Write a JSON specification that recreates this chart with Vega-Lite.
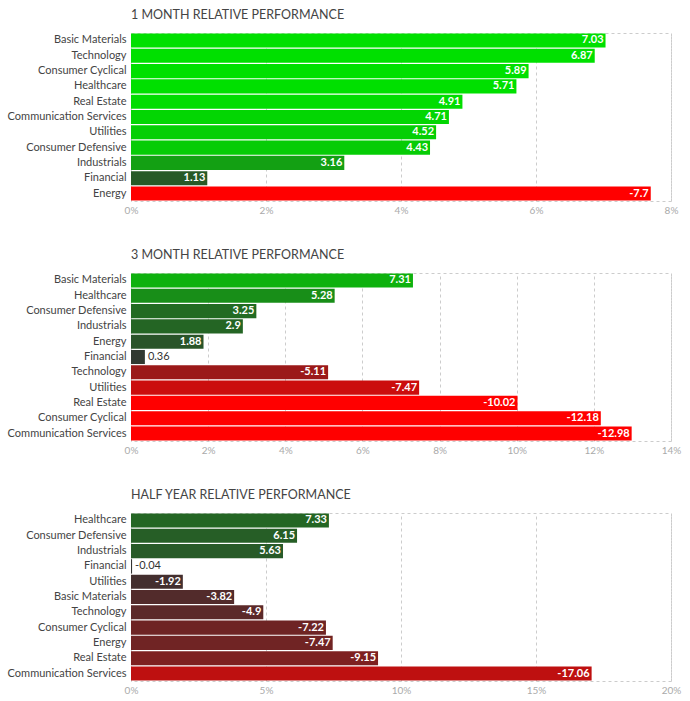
{
  "$schema": "https://vega.github.io/schema/vega-lite/v6.json",
  "padding": {"left": 5, "top": 8, "right": 10, "bottom": 5},
  "background": "white",
  "spacing": 32,
  "datasets": {
    "m1": [
      {"sector": "Basic Materials", "value": 7.03, "pct": 7.03},
      {"sector": "Technology", "value": 6.87, "pct": 6.87},
      {"sector": "Consumer Cyclical", "value": 5.89, "pct": 5.89},
      {"sector": "Healthcare", "value": 5.71, "pct": 5.71},
      {"sector": "Real Estate", "value": 4.91, "pct": 4.91},
      {"sector": "Communication Services", "value": 4.71, "pct": 4.71},
      {"sector": "Utilities", "value": 4.52, "pct": 4.52},
      {"sector": "Consumer Defensive", "value": 4.43, "pct": 4.43},
      {"sector": "Industrials", "value": 3.16, "pct": 3.16},
      {"sector": "Financial", "value": 1.13, "pct": 1.13},
      {"sector": "Energy", "value": -7.7, "pct": 7.7}
    ],
    "m3": [
      {"sector": "Basic Materials", "value": 7.31, "pct": 7.31},
      {"sector": "Healthcare", "value": 5.28, "pct": 5.28},
      {"sector": "Consumer Defensive", "value": 3.25, "pct": 3.25},
      {"sector": "Industrials", "value": 2.9, "pct": 2.9},
      {"sector": "Energy", "value": 1.88, "pct": 1.88},
      {"sector": "Financial", "value": 0.36, "pct": 0.36},
      {"sector": "Technology", "value": -5.11, "pct": 5.11},
      {"sector": "Utilities", "value": -7.47, "pct": 7.47},
      {"sector": "Real Estate", "value": -10.02, "pct": 10.02},
      {"sector": "Consumer Cyclical", "value": -12.18, "pct": 12.18},
      {"sector": "Communication Services", "value": -12.98, "pct": 12.98}
    ],
    "hy": [
      {"sector": "Healthcare", "value": 7.33, "pct": 7.33},
      {"sector": "Consumer Defensive", "value": 6.15, "pct": 6.15},
      {"sector": "Industrials", "value": 5.63, "pct": 5.63},
      {"sector": "Financial", "value": -0.04, "pct": 0.04},
      {"sector": "Utilities", "value": -1.92, "pct": 1.92},
      {"sector": "Basic Materials", "value": -3.82, "pct": 3.82},
      {"sector": "Technology", "value": -4.9, "pct": 4.9},
      {"sector": "Consumer Cyclical", "value": -7.22, "pct": 7.22},
      {"sector": "Energy", "value": -7.47, "pct": 7.47},
      {"sector": "Real Estate", "value": -9.15, "pct": 9.15},
      {"sector": "Communication Services", "value": -17.06, "pct": 17.06}
    ]
  },
  "vconcat": [
    {
      "title": "1 MONTH RELATIVE PERFORMANCE",
      "width": 540, "height": 168,
      "data": {"name": "m1"},
      "encoding": {
        "y": {"field": "sector", "type": "nominal", "sort": {"field": "value", "order": "descending"}, "title": null,
              "scale": {"paddingInner": 0.08, "paddingOuter": 0.03}},
        "x": {"field": "pct", "type": "quantitative", "title": null,
              "scale": {"domain": [0, 8], "nice": false},
              "axis": {"values": [0, 2, 4, 6, 8], "labelExpr": "datum.value + '%'"}}
      },
      "layer": [
        {"mark": {"type": "bar"},
         "encoding": {"color": {"field": "value", "type": "quantitative", "legend": null,
           "scale": {"type": "linear", "domain": [-5, 0, 5], "range": ["#ff0000", "#333333", "#00e000"], "clamp": true, "interpolate": "rgb"}}}},
        {"transform": [{"filter": "datum.pct >= 0.5"}],
         "mark": {"type": "text", "align": "right", "dx": -2, "baseline": "middle", "color": "white", "fontWeight": "bold", "fontSize": 11, "font": "Lato"},
         "encoding": {"text": {"field": "value", "type": "nominal"}}},
        {"transform": [{"filter": "datum.pct < 0.5"}],
         "mark": {"type": "text", "align": "left", "dx": 3, "baseline": "middle", "color": "#333333", "fontSize": 11, "font": "Lato"},
         "encoding": {"text": {"field": "value", "type": "nominal"}}}
      ]
    },
    {
      "title": "3 MONTH RELATIVE PERFORMANCE",
      "width": 540, "height": 168,
      "data": {"name": "m3"},
      "encoding": {
        "y": {"field": "sector", "type": "nominal", "sort": {"field": "value", "order": "descending"}, "title": null,
              "scale": {"paddingInner": 0.08, "paddingOuter": 0.03}},
        "x": {"field": "pct", "type": "quantitative", "title": null,
              "scale": {"domain": [0, 14], "nice": false},
              "axis": {"values": [0, 2, 4, 6, 8, 10, 12, 14], "labelExpr": "datum.value + '%'"}}
      },
      "layer": [
        {"mark": {"type": "bar"},
         "encoding": {"color": {"field": "value", "type": "quantitative", "legend": null,
           "scale": {"type": "linear", "domain": [-10, 0, 10], "range": ["#ff0000", "#333333", "#00e000"], "clamp": true, "interpolate": "rgb"}}}},
        {"transform": [{"filter": "datum.pct >= 0.5"}],
         "mark": {"type": "text", "align": "right", "dx": -2, "baseline": "middle", "color": "white", "fontWeight": "bold", "fontSize": 11, "font": "Lato"},
         "encoding": {"text": {"field": "value", "type": "nominal"}}},
        {"transform": [{"filter": "datum.pct < 0.5"}],
         "mark": {"type": "text", "align": "left", "dx": 3, "baseline": "middle", "color": "#333333", "fontSize": 11, "font": "Lato"},
         "encoding": {"text": {"field": "value", "type": "nominal"}}}
      ]
    },
    {
      "title": "HALF YEAR RELATIVE PERFORMANCE",
      "width": 540, "height": 168,
      "data": {"name": "hy"},
      "encoding": {
        "y": {"field": "sector", "type": "nominal", "sort": {"field": "value", "order": "descending"}, "title": null,
              "scale": {"paddingInner": 0.08, "paddingOuter": 0.03}},
        "x": {"field": "pct", "type": "quantitative", "title": null,
              "scale": {"domain": [0, 20], "nice": false},
              "axis": {"values": [0, 5, 10, 15, 20], "labelExpr": "datum.value + '%'"}}
      },
      "layer": [
        {"mark": {"type": "bar"},
         "encoding": {"color": {"field": "value", "type": "quantitative", "legend": null,
           "scale": {"type": "linear", "domain": [-25, 0, 25], "range": ["#ff0000", "#333333", "#00e000"], "clamp": true, "interpolate": "rgb"}}}},
        {"transform": [{"filter": "datum.pct >= 0.5"}],
         "mark": {"type": "text", "align": "right", "dx": -2, "baseline": "middle", "color": "white", "fontWeight": "bold", "fontSize": 11, "font": "Lato"},
         "encoding": {"text": {"field": "value", "type": "nominal"}}},
        {"transform": [{"filter": "datum.pct < 0.5"}],
         "mark": {"type": "text", "align": "left", "dx": 3, "baseline": "middle", "color": "#333333", "fontSize": 11, "font": "Lato"},
         "encoding": {"text": {"field": "value", "type": "nominal"}}}
      ]
    }
  ],
  "resolve": {"scale": {"x": "independent", "y": "independent", "color": "independent"}},
  "config": {
    "font": "Lato",
    "view": {"stroke": "#cccccc", "strokeDash": [3, 3]},
    "title": {"anchor": "start", "frame": "group", "font": "Lato", "fontSize": 12.5, "fontWeight": "normal", "color": "#444444", "offset": 12},
    "axisY": {"ticks": false, "domain": false, "grid": false, "labelFont": "Lato", "labelFontSize": 11, "labelColor": "#444444", "labelPadding": 5, "minExtent": 125, "maxExtent": 125},
    "axisX": {"ticks": false, "domain": false, "grid": true, "gridColor": "#cccccc", "gridDash": [3, 3], "labelFont": "Lato", "labelFontSize": 10, "labelColor": "#aaaaaa", "labelPadding": 4, "labelFlush": false}
  }
}
